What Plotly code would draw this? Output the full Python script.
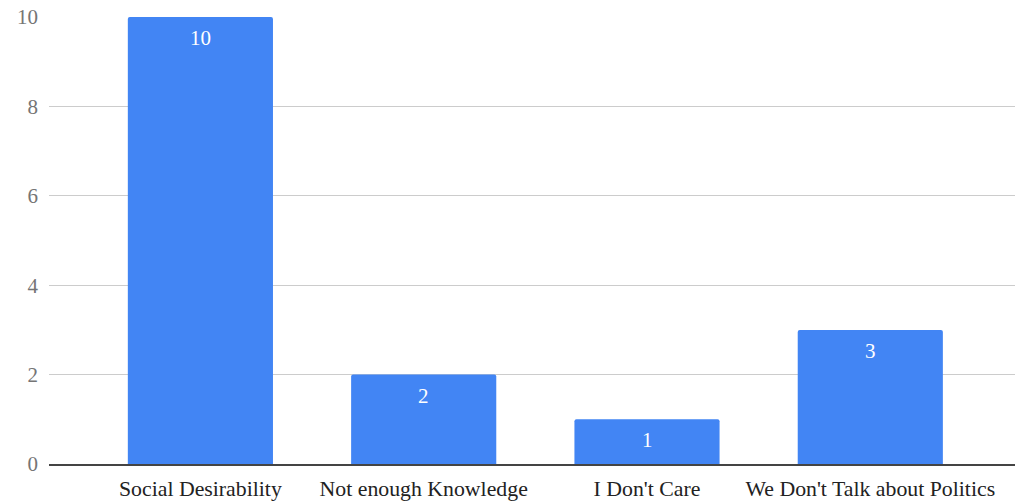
import plotly.graph_objects as go

categories = ["Social Desirability", "Not enough Knowledge", "I Don't Care", "We Don't Talk about Politics"]
values = [10, 2, 1, 3]

fig = go.Figure(go.Bar(
    x=categories, y=values,
    marker=dict(color="#4285f4", cornerradius=2, line=dict(width=0)),
    width=0.65,
    hoverinfo="x+y",
))

for c, v in zip(categories, values):
    fig.add_annotation(x=c, y=v, text=str(v), showarrow=False, yanchor="middle", yshift=-21,
                       font=dict(family="Liberation Serif", size=21, color="white"))

fig.update_layout(
    width=1015, height=501,
    margin=dict(l=49, r=0, t=17, b=37, autoexpand=False),
    plot_bgcolor="white", paper_bgcolor="white",
    font=dict(family="Liberation Serif", size=21),
    showlegend=False,
    xaxis=dict(range=[-0.678, 3.648], showgrid=False, showline=True, linecolor="#444444", linewidth=2,
               tickfont=dict(color="#222222", size=21.8), ticks="", ticklabelstandoff=4, automargin=False),
    yaxis=dict(range=[0, 10], dtick=2, showgrid=True, gridcolor="#cccccc", gridwidth=1, zeroline=False,
               tickfont=dict(color="#757575", size=21), ticks="", ticklabelstandoff=10, automargin=False),
)

fig.write_html("out.html", config={"displayModeBar": False},
               post_script="document.body.style.margin='0';")
